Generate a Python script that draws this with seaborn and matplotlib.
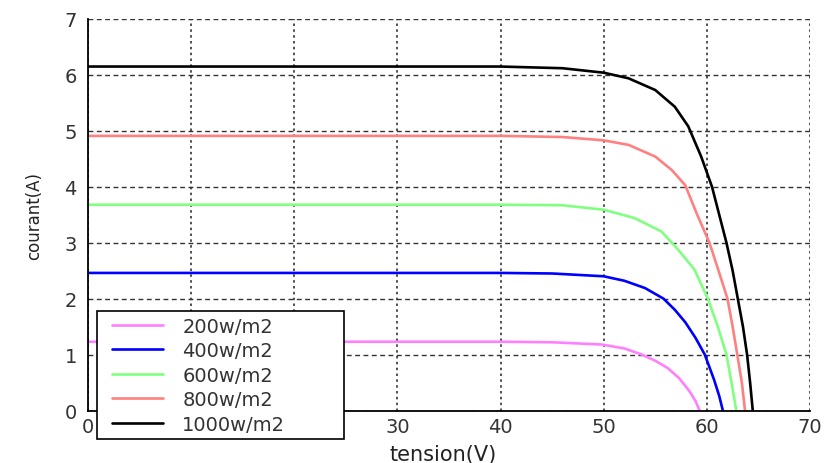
import numpy as np
import pandas as pd
import seaborn as sns
import matplotlib
matplotlib.use("Agg")
import matplotlib.pyplot as plt
from matplotlib.lines import Line2D
from matplotlib.legend_handler import HandlerLine2D

# I-V curves, one pair of arrays per irradiance
v200 = [0, 10, 20, 30, 40, 45, 49.8, 52, 53.7, 55, 56.2, 57.3, 58.3, 58.9, 59.3]
i200 = [1.23, 1.23, 1.23, 1.23, 1.23, 1.22, 1.18, 1.11, 1.0, 0.89, 0.76, 0.58, 0.35, 0.17, 0]

v400 = [0, 10, 20, 30, 40, 45, 50, 52, 54.0, 55.8, 56.9, 57.9, 58.9, 59.8, 60.7, 61.2, 61.55]
i400 = [2.46, 2.46, 2.46, 2.46, 2.46, 2.45, 2.40, 2.32, 2.19, 2.0, 1.80, 1.58, 1.30, 1.0, 0.55, 0.26, 0]

v600 = [0, 10, 20, 30, 40, 46, 50, 53.0, 55.6, 57.2, 58.8, 60.1, 61.06, 61.9, 62.4, 62.85]
i600 = [3.68, 3.68, 3.68, 3.68, 3.68, 3.67, 3.59, 3.44, 3.20, 2.88, 2.52, 2.0, 1.5, 1.0, 0.49, 0]

v800 = [0, 10, 20, 30, 40, 46, 50, 52.4, 55.0, 56.6, 57.9, 59.0, 60.25, 61.1, 62.0, 62.5, 62.95, 63.4, 63.7]
i800 = [4.91, 4.91, 4.91, 4.91, 4.91, 4.89, 4.83, 4.75, 4.54, 4.30, 4.03, 3.53, 3.0, 2.52, 2.0, 1.5, 1.0, 0.49, 0]

v1000 = [0, 10, 20, 30, 40, 46, 50, 52.4, 55.0, 56.9, 58.2, 59.45, 60.5, 61.2, 61.9, 62.5, 63.0, 63.5, 63.9, 64.2, 64.45]
i1000 = [6.15, 6.15, 6.15, 6.15, 6.15, 6.12, 6.04, 5.94, 5.73, 5.43, 5.08, 4.54, 4.0, 3.5, 3.0, 2.5, 2.0, 1.5, 1.0, 0.49, 0]

labels = ["200w/m2", "400w/m2", "600w/m2", "800w/m2", "1000w/m2"]
colors = ["#ff80ff", "#0000ff", "#80ff80", "#ff8080", "#000000"]
x_ticks = [0, 10, 20, 30, 40, 50, 60, 70]
# the 10 and 20 labels sit under the legend in the original
x_ticklabels = ["0", "", "", "30", "40", "50", "60", "70"]
y_ticks = [0, 1, 2, 3, 4, 5, 6, 7]

# long-form table for seaborn
frames = []
for lab, v, i in zip(labels, [v200, v400, v600, v800, v1000],
                     [i200, i400, i600, i800, i1000]):
    frames.append(pd.DataFrame({"tension": v, "courant": i, "serie": lab}))
df = pd.concat(frames, ignore_index=True)

sns.set_style("white")
plt.rcParams["font.family"] = ["DejaVu Sans"]

fig = plt.figure(figsize=(8.24, 4.64), dpi=100)
ax = fig.add_axes([0.1068, 0.1131, 0.8762, 0.8438])

sns.lineplot(data=df, x="tension", y="courant", hue="serie",
             hue_order=labels, palette=colors, sort=False,
             estimator=None, linewidth=1.9, ax=ax)

ax.set_xlim(0, 70)
ax.set_ylim(0, 7)
ax.set_xticks(x_ticks)
ax.set_xticklabels(x_ticklabels)
ax.set_yticks(y_ticks)

# matlab style grid: dashed across, dotted up
ax.yaxis.grid(True, color="#333333", linestyle=(0, (3.5, 2.5)), linewidth=1)
ax.xaxis.grid(True, color="#333333", linestyle=(0, (1.5, 2)), linewidth=1.2)
ax.set_axisbelow(True)

for s in ["top", "right"]:
    ax.spines[s].set_visible(False)
for s in ["left", "bottom"]:
    ax.spines[s].set_color("black")
    ax.spines[s].set_linewidth(1.3)

ax.tick_params(direction="in", length=4, width=1, colors="#333333",
               labelsize=14)
ax.tick_params(axis="y", pad=8)
ax.tick_params(axis="x", pad=5)

ax.set_xlabel("tension(V)", fontsize=15, color="#222222")
ax.set_ylabel("courant(A)", fontsize=12, color="#222222")
ax.xaxis.set_label_coords(0.492, -0.085)
ax.yaxis.set_label_coords(-0.062, 0.5)

# legend: short lines set in from the frame like the matlab one
handles = [Line2D([], [], color=c, linewidth=1.9) for c in colors]
leg = ax.legend(handles, labels, loc="upper left",
                bbox_to_anchor=(0.0125, -0.0677, 0.342, 0.322),
                mode="expand", borderaxespad=0, fontsize=14, frameon=True,
                fancybox=False, framealpha=1, edgecolor="black",
                handlelength=3.08, handletextpad=1.0, labelspacing=0.28,
                borderpad=0.3,
                handler_map={Line2D: HandlerLine2D(xpad=0.46)})
leg.get_frame().set_linewidth(1.2)
for t in leg.get_texts():
    t.set_color("#333333")

fig.savefig("out.png", dpi=100)
